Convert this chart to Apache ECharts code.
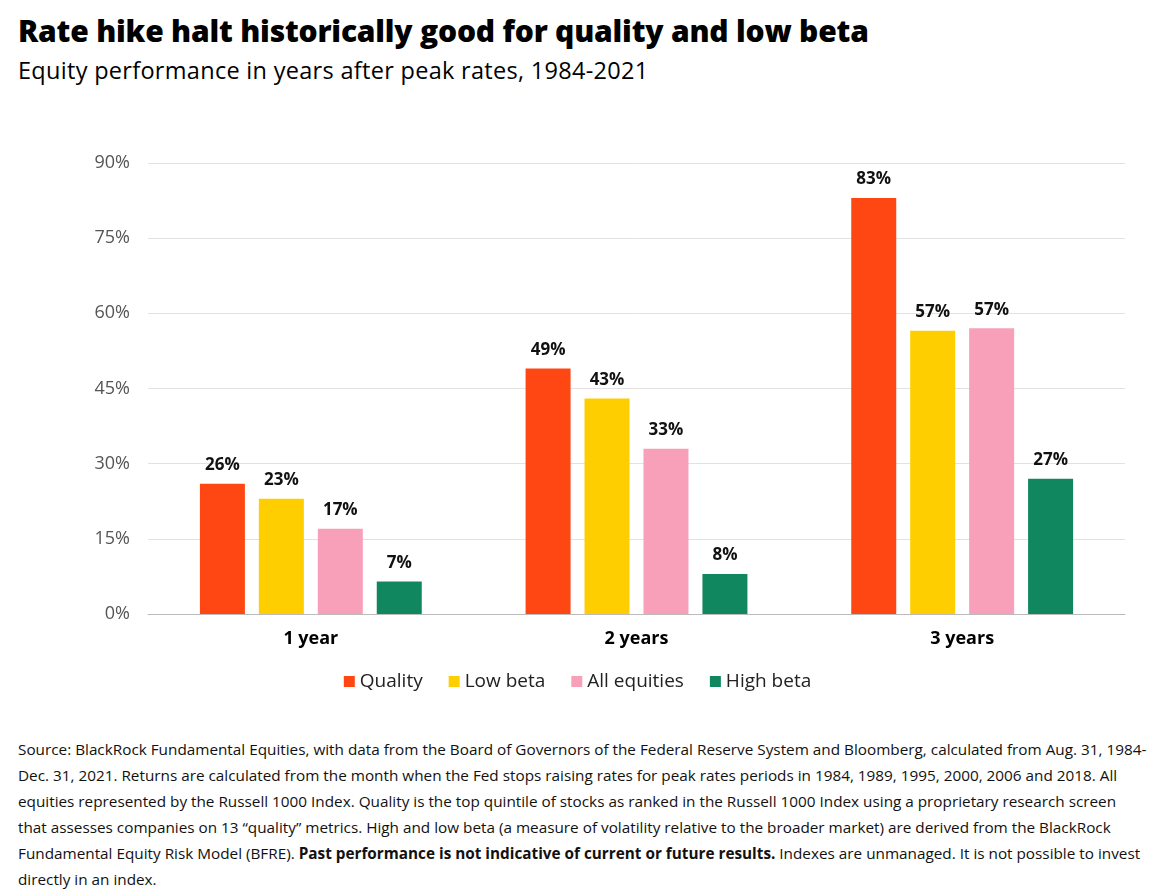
<!DOCTYPE html>
<html><head><meta charset="utf-8">
<script src="https://cdn.jsdelivr.net/npm/echarts@6/dist/echarts.min.js"></script>
<style>
body{margin:0;background:#fff;font-family:"Open Sans","Noto Sans",sans-serif;}
#c{position:absolute;left:0;top:0;width:1155px;height:730px;}
#t{position:absolute;left:18px;top:10px;font-size:30px;font-weight:800;color:#000;letter-spacing:-0.2px}
#s{position:absolute;left:18px;top:54px;font-size:23.5px;color:#000;letter-spacing:0.3px}
#f{position:absolute;left:18px;top:736px;width:1130px;font-size:15.3px;line-height:26px;color:#111}
</style></head><body>
<div id="t">Rate hike halt historically good for quality and low beta</div>
<div id="s">Equity performance in years after peak rates, 1984-2021</div>
<div id="c"></div>
<div id="f">Source: BlackRock Fundamental Equities, with data from the Board of Governors of the Federal Reserve System and Bloomberg, calculated from Aug. 31, 1984-Dec. 31, 2021. Returns are calculated from the month when the Fed stops raising rates for peak rates periods in 1984, 1989, 1995, 2000, 2006 and 2018. All equities represented by the Russell 1000 Index. Quality is the top quintile of stocks as ranked in the Russell 1000 Index using a proprietary research screen that assesses companies on 13 “quality” metrics. High and low beta (a measure of volatility relative to the broader market) are derived from the BlackRock Fundamental Equity Risk Model (BFRE). <b>Past performance is not indicative of current or future results.</b> Indexes are unmanaged. It is not possible to invest directly in an index.</div>
<script>
const categories=["1 year","2 years","3 years"];
const seriesNames=["Quality","Low beta","All equities","High beta"];
const quality=[26,49,83];
const lowBeta=[23,43,56.5];
const allEquities=[17,33,57];
const highBeta=[6.5,8,27];
const colors=["#FF4713","#FFCE00","#F8A0B9","#10875F"];
const vals=[quality,lowBeta,allEquities,highBeta];
const chart=echarts.init(document.getElementById('c'));
chart.setOption({
 animation:false,
 grid:{left:148,right:30,top:163,bottom:116},
 legend:{top:667,left:'center',itemWidth:11,itemHeight:11,itemGap:26,icon:'rect',
   textStyle:{fontSize:19,color:'#222',fontFamily:'Open Sans'},data:seriesNames},
 xAxis:{type:'category',data:categories,axisTick:{show:false},
   axisLine:{lineStyle:{color:'#bbb'}},
   axisLabel:{fontSize:18,fontWeight:'bold',color:'#000',margin:16,fontFamily:'Open Sans'}},
 yAxis:{type:'value',min:0,max:90,interval:15,
   axisLabel:{formatter:'{value}%',fontSize:18,color:'#555',margin:18,fontFamily:'Open Sans'},
   splitLine:{lineStyle:{color:'#e2e2e2'}}},
 series:vals.map((v,i)=>({name:seriesNames[i],type:'bar',data:v,barWidth:45,barGap:'31%',
   itemStyle:{color:colors[i]},
   label:{show:true,position:'top',distance:10,fontSize:17,fontWeight:'bold',color:'#111',
     fontFamily:'Open Sans',formatter:p=>Math.round(p.value)+'%'}}))
});
</script></body></html>
